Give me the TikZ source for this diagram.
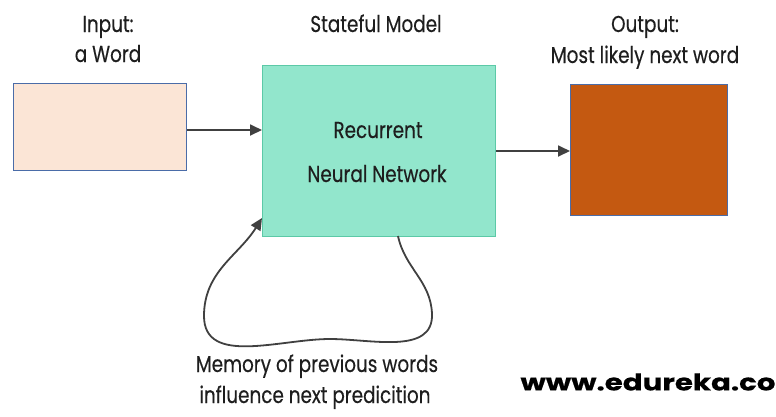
\documentclass[tikz,border=0pt]{standalone}
\usepackage{fontspec}
\setmainfont[FakeStretch=0.8,FakeBold=0.3]{Poppins}
\usetikzlibrary{arrows.meta}
\definecolor{peach}{HTML}{FBE5D6}
\definecolor{boxedge}{HTML}{4A6CA8}
\definecolor{mint}{HTML}{92E6CC}
\definecolor{mintedge}{HTML}{5CC9A7}
\definecolor{rust}{HTML}{C45911}
\definecolor{ink}{HTML}{1E1E1E}
\tikzset{
  lbl/.style={text=ink, font=\fontsize{23}{26}\selectfont, inner sep=0pt, anchor=base},
  conn/.style={draw=ink!85, line width=1.8pt, -{Triangle[length=12pt,width=11pt]}},
  blk/.style={draw=boxedge, line width=1pt, inner sep=0pt, anchor=north west}
}
\begin{document}
\begin{tikzpicture}[x=1pt,y=-1pt]
\useasboundingbox (0,0) rectangle (776,416);
% boxes
\node[blk, fill=peach, minimum width=173pt, minimum height=87pt] (in) at (13,83) {};
\node[blk, draw=mintedge, fill=mint, minimum width=233pt, minimum height=171pt] (rnn) at (262,65) {};
\node[blk, fill=rust, minimum width=157pt, minimum height=131pt] (out) at (570,84) {};
% labels
\node[lbl] (t1a) at (108,32) {Input:};
\node[lbl] (t1b) at (108,62) {a Word};
\node[lbl] (t2) at (376,32) {Stateful Model};
\node[lbl] (t3a) at (645,32) {Output:};
\node[lbl] (t3b) at (645,63) {Most likely next word};
\node[lbl] (t4) at (378,138) {Recurrent};
\node[lbl] (t5) at (377,182) {Neural Network};
\node[lbl] (t6a) at (317,372) {Memory of previous words};
\node[lbl] (t6b) at (315,403) {influence next predicition};
\node[inner sep=0pt] (wm) at (648,382) {\resizebox{255pt}{17pt}{\textbf{www.edureka.co}}};
% connectors
\draw[conn] (in.east |- 0,130) -- (rnn.west |- 0,130);
\draw[conn] (rnn.east |- 0,151) -- (out.west |- 0,151);
\coordinate (ls) at (398,236);
\coordinate (lt) at (262,218);
\draw[conn] (ls) to[out=-78,in=92] (432,314)
  to[out=-88,in=0] (330,339)
  to[out=180,in=-90] (204,316)
  to[out=90,in=-122] (lt);
\end{tikzpicture}
\end{document}
